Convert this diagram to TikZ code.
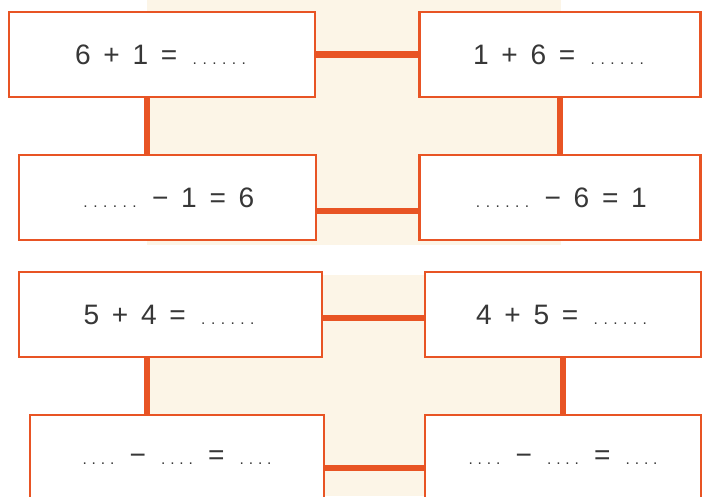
\documentclass[tikz,border=0pt]{standalone}
\usepackage{fontspec}
\setmainfont{Liberation Sans}
\usetikzlibrary{calc}
\definecolor{boxline}{RGB}{232,84,36}
\definecolor{paper}{RGB}{252,245,231}
\definecolor{ink}{RGB}{55,55,55}
\newlength\dotgap
\setlength\dotgap{0.245cm}
% a row of small dots to fill in
\newcommand{\blank}[1]{\hbox to #1\dotgap{\xleaders\hbox to \dotgap{\hss\fontsize{11}{11}\selectfont.\hss}\hfill}}
\newcommand{\shortblank}{\hbox to 0.92cm{\xleaders\hbox to 0.23cm{\hss\fontsize{11}{11}\selectfont.\hss}\hfill}}
\newcommand{\gapped}[1]{\spaceskip 0.45em\relax #1}
\tikzset{
    sumbox/.style={draw=boxline, line width=2pt, fill=white,
                   minimum height=2.125cm, inner sep=0pt, text=ink,
                   font=\fontsize{20}{24}\selectfont},
    link/.style={draw=boxline, line width=4.3pt},
}

\begin{document}
\begin{tikzpicture}[x=0.025cm, y=-0.025cm]
    \path[use as bounding box] (0,0) rectangle (704,496);
    \clip (0,0) rectangle (704,496);

    \fill[paper] (147,0) rectangle (561,245);
    \fill[paper] (147,275) rectangle (561,496);

    \foreach \name/\x/\y/\w/\txt in {
        add1/162/54.5/306/{6 + 1 = \blank{6}},
        addswap1/560/54.5/281/{1 + 6 = \blank{6}},
        take1/167.5/197.5/297/{\blank{6} − 1 = 6},
        takeswap1/560/197.5/281/{\blank{6} − 6 = 1},
        add2/170.5/314.5/303/{5 + 4 = \blank{6}},
        addswap2/563/314.5/276/{4 + 5 = \blank{6}},
        take2/177/457.5/294/{\shortblank{} − \shortblank{} = \shortblank\hspace{0.4cm}},
        takeswap2/563/457.5/276/{\shortblank{} − \shortblank{} = \shortblank}} {
        \node[sumbox, minimum width=\w*0.025cm] (\name) at (\x,\y) {\gapped{\txt}};
    }

    \draw[link] (add1.east) -- (addswap1.west);
    \draw[link] ([yshift=-0.34cm]take1.east) -- ([yshift=-0.34cm]takeswap1.west);
    \draw[link] ([yshift=-0.09cm]add2.east) -- ([yshift=-0.09cm]addswap2.west);
    \draw[link] ([yshift=-0.26cm]take2.east) -- ([yshift=-0.26cm]takeswap2.west);

    \draw[link] ($(add1.south)+(-15,0)$) -- ($(add1.south |- take1.north)+(-15,0)$);
    \draw[link] (addswap1.south) -- (takeswap1.north);
    \draw[link] ($(add2.south)+(-23.5,0)$) -- ($(add2.south |- take2.north)+(-23.5,0)$);
    \draw[link] (addswap2.south) -- (takeswap2.north);
\end{tikzpicture}
\end{document}
